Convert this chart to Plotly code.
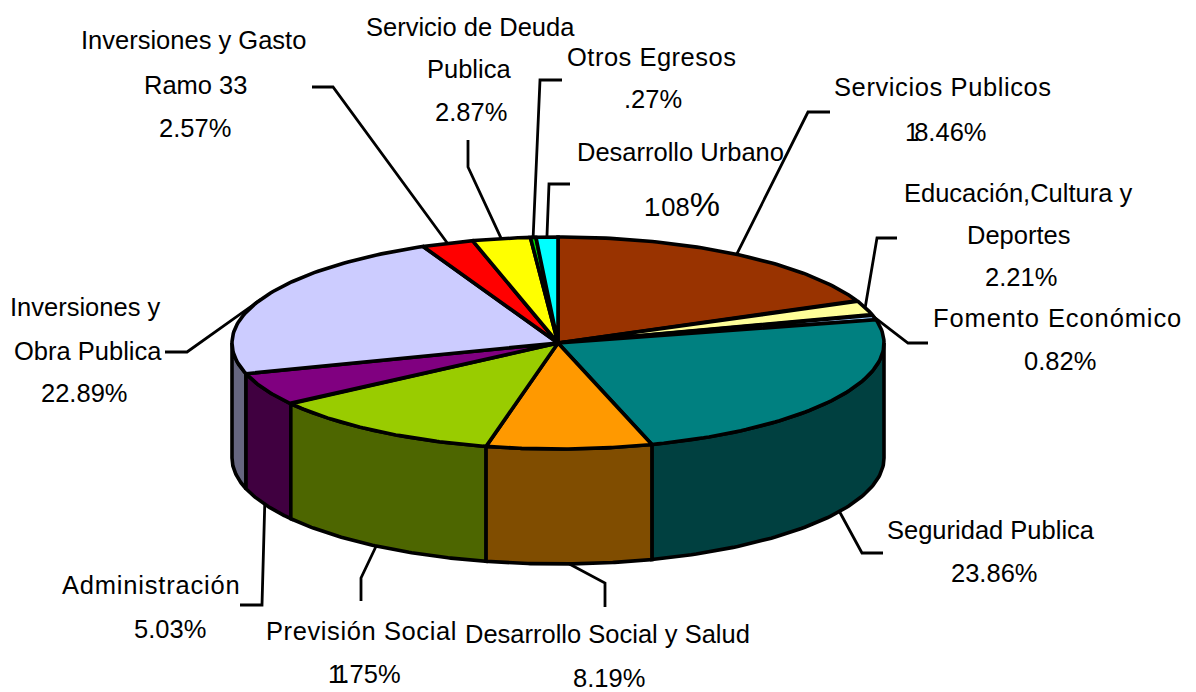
import numpy as np
import plotly.graph_objects as go

# Data
categories = ["Servicios Publicos", "Educación,Cultura y Deportes", "Fomento Económico",
              "Seguridad Publica", "Desarrollo Social y Salud", "Previsión Social",
              "Administración", "Inversiones y Obra Publica", "Inversiones y Gasto Ramo 33",
              "Servicio de Deuda Publica", "Otros Egresos", "Desarrollo Urbano"]
values = [18.46, 2.21, 0.82, 23.86, 8.19, 11.75, 5.03, 22.89, 2.57, 2.87, 0.27, 1.08]
top_colors = ["#993300", "#FFFF99", "#99CCFF", "#008080", "#FF9900", "#99CC00",
              "#800080", "#CCCCFF", "#FF0000", "#FFFF00", "#00E000", "#00FFFF"]
side_colors = ["#4D1A00", "#80804D", "#4D6680", "#004040", "#804D00", "#4D6600",
               "#400040", "#666680", "#800000", "#808000", "#008000", "#008080"]

# Projection of the disc on the page
CX, CY, RX, RY, DEPTH = 558, 343, 326, 106, 115
FONT = "Liberation Sans"
SIZE = 25.5

# (elbow, end) of each leader line, in the same order as categories
leaders = [((808, 112), (830, 112)), ((877, 238), (897, 238)), ((908, 343), (928, 343)),
           ((862, 553), (883, 553)), ((605, 583), (605, 607)), ((361, 578), (361, 601)),
           ((262, 605), (240, 605)), ((187, 352), (165, 352)), ((333, 87), (312, 87)),
           ((468, 167), (468, 140)), ((540, 80), (562, 80)), ((549, 184), (570, 184))]


def spaced(text, px):
    return f'<span style="letter-spacing:{px}px">{text}</span>'


# (text, centre x, centre y) for each line of text
label_lines = [
    (spaced("Servicios Publicos", 0.6), 943, 87), (spaced("1", -5) + "8.46%", 946, 132),
    ("Educación,Cultura y", 1018, 193), ("Deportes", 1018, 235), ("2.21%", 1021, 277),
    (spaced("Fomento Económico", 0.9), 1057, 318), ("0.82%", 1060, 361),
    ("Seguridad Publica", 991, 530), ("23.86%", 994, 573),
    ("Desarrollo Social y Salud", 607, 634), ("8.19%", 609, 678),
    (spaced("Previsión Social", 0.6), 361, 631), (spaced("11", -6) + ".75%", 364, 674),
    (spaced("Administración", 0.8), 151, 585), ("5.03%", 170, 629),
    ("Inversiones y", 85, 307), ("Obra Publica", 88, 351), ("22.89%", 84, 393),
    ("Inversiones y Gasto", 193, 40), ("Ramo 33", 195, 85), ("2.57%", 195, 128),
    ("Servicio de Deuda", 470, 27), ("Publica", 469, 69), ("2.87%", 471, 112),
    (spaced("Otros Egresos", 0.5), 651, 57), (".27%", 653, 99),
    ("Desarrollo Urbano", 680, 152),
    (spaced("1", -4) + '.08<span style="font-size:34px">%</span>', 682, 204),
]


def rim(angle_deg):
    a = np.radians(angle_deg)
    return CX + RX * np.sin(a), CY - RY * np.cos(a)


edges = np.concatenate([[0], np.cumsum(values)]) / sum(values) * 360
fig = go.Figure()
line = dict(color="black", width=3.6)

# Walls: only the part of each slice on the near half of the rim shows
order = sorted(range(len(values)), key=lambda i: -abs((edges[i] + edges[i + 1]) / 2 - 180))
for i in order:
    lo, hi = max(edges[i], 90), min(edges[i + 1], 270)
    if hi <= lo:
        continue
    x, y = rim(np.linspace(lo, hi, 80))
    fig.add_trace(go.Scatter(
        x=np.concatenate([x, x[::-1], x[:1]]),
        y=np.concatenate([y, y[::-1] + DEPTH, y[:1]]),
        mode="lines", fill="toself", fillcolor=side_colors[i], line=line,
        hoverinfo="skip", showlegend=False))

# Top face
for i, name in enumerate(categories):
    x, y = rim(np.linspace(edges[i], edges[i + 1], 80))
    fig.add_trace(go.Scatter(
        x=np.concatenate([[CX], x, [CX]]), y=np.concatenate([[CY], y, [CY]]),
        mode="lines", fill="toself", fillcolor=top_colors[i], line=line,
        name=name, text=f"{name}: {values[i]}%", hoverinfo="text", showlegend=False))

# Leader lines start at the middle of each slice on the rim
for i, (elbow, end) in enumerate(leaders):
    mid = (edges[i] + edges[i + 1]) / 2
    x0, y0 = rim(mid)
    if 90 < mid < 270:
        y0 += DEPTH
    fig.add_trace(go.Scatter(
        x=[float(x0), elbow[0], end[0]], y=[float(y0), elbow[1], end[1]],
        mode="lines", line=dict(color="black", width=2.8),
        hoverinfo="skip", showlegend=False))

for text, x, y in label_lines:
    fig.add_annotation(x=x, y=y, text=text, showarrow=False, xanchor="center", yanchor="middle",
                       font=dict(family=FONT, size=SIZE, color="black"))

fig.update_layout(
    width=1196, height=692, margin=dict(l=0, r=0, t=0, b=0),
    paper_bgcolor="white", plot_bgcolor="white",
    xaxis=dict(range=[0, 1196], visible=False, fixedrange=True),
    yaxis=dict(range=[692, 0], visible=False, fixedrange=True),
)
fig.write_html("out.html", config={"displayModeBar": False},
               post_script="document.body.style.margin='0';document.body.style.overflow='hidden';")
